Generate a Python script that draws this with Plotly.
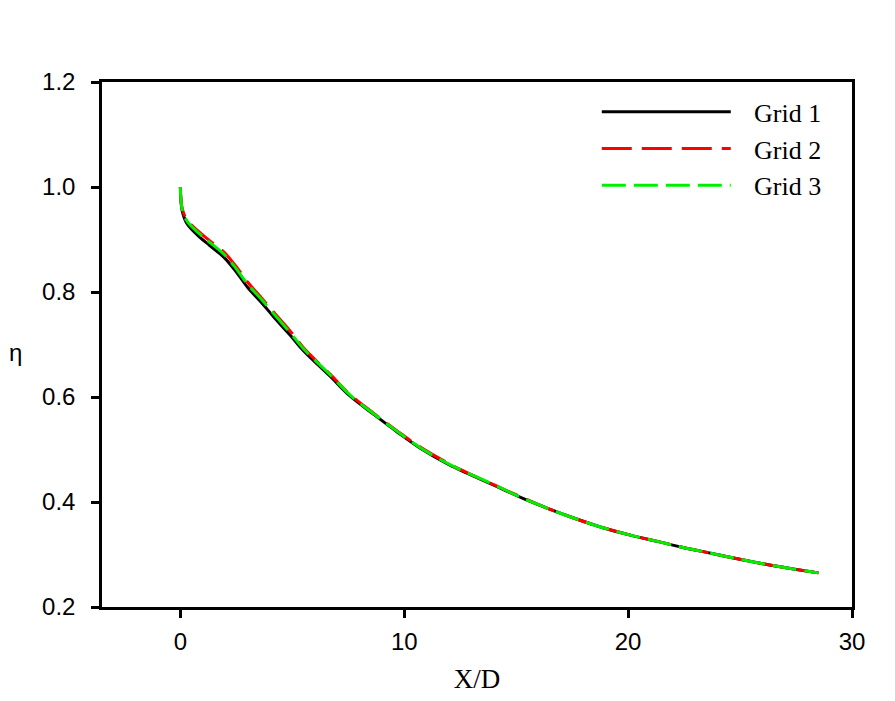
import plotly.graph_objects as go

# X/D positions shared by all three grids
x_d = [0, 0.08, 0.3, 0.85, 1.3, 1.95, 2.5, 3.0, 3.6, 4.2, 4.9, 5.5, 6.7, 7.6,
       8.7, 9.7, 10.7, 12.0, 12.9, 14.1, 15.3, 16.4, 17.6, 18.8, 20.1, 21.4,
       22.5, 23.75, 25.1, 26.2, 27.45, 28.5]

eta_grid1 = [1.0, 0.955, 0.930, 0.905, 0.889, 0.866, 0.838, 0.809, 0.781,
             0.751, 0.718, 0.688, 0.639, 0.601, 0.565, 0.533, 0.503, 0.471,
             0.453, 0.430, 0.407, 0.388, 0.369, 0.352, 0.337, 0.324, 0.313,
             0.302, 0.290, 0.281, 0.272, 0.265]

eta_grid2 = [1.0, 0.960, 0.937, 0.914, 0.898, 0.876, 0.848, 0.819, 0.790,
             0.760, 0.726, 0.694, 0.643, 0.604, 0.567, 0.535, 0.505, 0.473,
             0.454, 0.431, 0.408, 0.388, 0.369, 0.352, 0.337, 0.324, 0.313,
             0.302, 0.290, 0.281, 0.272, 0.265]

eta_grid3 = [1.0, 0.958, 0.935, 0.911, 0.895, 0.872, 0.844, 0.815, 0.787,
             0.757, 0.723, 0.692, 0.642, 0.603, 0.566, 0.534, 0.504, 0.472,
             0.454, 0.431, 0.407, 0.388, 0.369, 0.352, 0.337, 0.324, 0.313,
             0.302, 0.290, 0.281, 0.272, 0.265]

series = [
    ("Grid 1", eta_grid1, "black", "solid"),
    ("Grid 2", eta_grid2, "#ff0000", "30px,10px"),
    ("Grid 3", eta_grid3, "#00ee00", "24px,8px"),
]

# small gap between the legend line and its label
pad = "\u00a0\u00a0\u2009"

fig = go.Figure()

for name, values, color, dash in series:
    fig.add_trace(go.Scatter(
        x=x_d,
        y=values,
        mode="lines",
        name=pad + name,
        line=dict(color=color, width=3, dash=dash, shape="spline")
    ))

axis_common = dict(
    showline=True,
    linecolor="black",
    linewidth=2.5,
    mirror=True,
    showgrid=False,
    zeroline=False,
    automargin=False,
    ticks="outside",
    ticklen=8,
    tickwidth=2.5,
    tickcolor="black",
    tickfont=dict(family="Liberation Sans, Arial", size=24, color="black"),
)

fig.update_xaxes(
    range=[-3.5, 30],
    tickvals=[0, 10, 20, 30],
    ticklabelstandoff=3,
    title=dict(text="X/D", font=dict(family="Liberation Serif, Times New Roman",
                                     size=27, color="black"), standoff=16),
    **axis_common
)

fig.update_yaxes(
    range=[0.2, 1.2],
    tickvals=[0.2, 0.4, 0.6, 0.8, 1.0, 1.2],
    tickformat=".1f",
    ticklabelstandoff=11,
    **axis_common
)

# upright y label, like the original
fig.add_annotation(
    text="η",
    xref="paper",
    yref="paper",
    x=-0.116,
    y=0.485,
    xanchor="center",
    yanchor="middle",
    showarrow=False,
    font=dict(family="Liberation Sans, Arial", size=24, color="black")
)

# the page body adds an 8px offset, so the figure is 8px smaller than the window
fig.update_layout(
    width=887,
    height=693,
    margin=dict(l=94, r=43, t=74, b=94),
    plot_bgcolor="white",
    paper_bgcolor="white",
    showlegend=True,
    legend=dict(
        x=0.6597,
        y=0.988,
        xanchor="left",
        yanchor="top",
        bgcolor="rgba(0,0,0,0)",
        itemwidth=129,
        tracegroupgap=0,
        font=dict(family="Liberation Serif, Times New Roman", size=26, color="black"),
    ),
)

fig.write_html("out.html")
